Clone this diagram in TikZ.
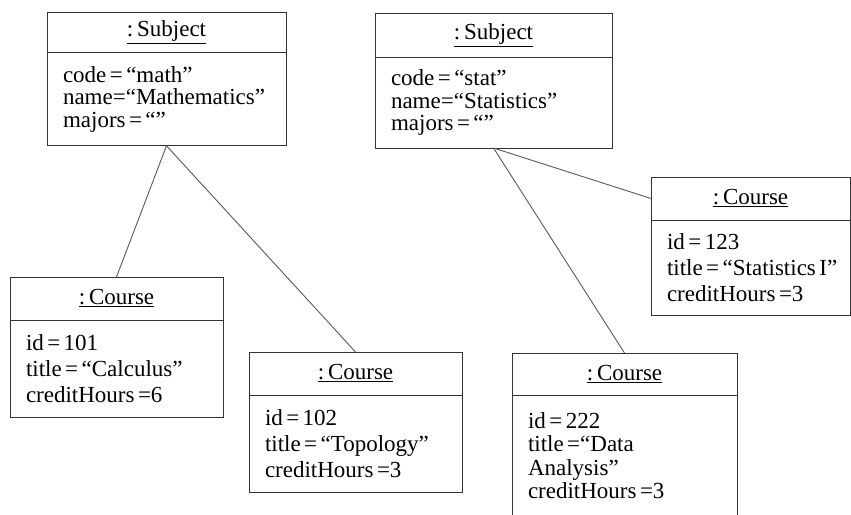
\documentclass[tikz,border=0pt]{standalone}
\usepackage{fontspec}
\setmainfont{Liberation Serif}
\newcommand{\objfont}[1]{\fontsize{23}{#1}\selectfont\hyphenpenalty=10000\relax}
\begin{document}
\begin{tikzpicture}[x=1pt, y=-1pt,
    every node/.style={inner sep=0pt, outer sep=0pt, font=\objfont{25}},
    objhead/.style={draw=black!80, line width=0.9pt},
    objbody/.style={draw=black!80, line width=0.9pt, align=left, inner xsep=16pt,
        execute at begin node={\spaceskip=0.15em plus 0.05em\relax}},
    subjtext/.style={font=\objfont{22.5}},
    crstext/.style={font=\objfont{26}},
    link/.style={draw=black!65, line width=0.9pt}]
    \useasboundingbox (0,0) rectangle (851,514);
    % Subject math
    \node[objhead, minimum width=239pt, minimum height=40pt] (subjA) at (166.5,32) {\underline{:\,Subject}};
    \node[objbody, subjtext, text width=207pt, minimum height=93.5pt] (subjAbody) at (166.5,99)
        {code = “math”\\ name=“Mathematics”\\ majors = “”};
    % Subject stat
    \node[objhead, minimum width=237pt, minimum height=44pt] (subjB) at (493.5,35) {\underline{:\,Subject}};
    \node[objbody, subjtext, text width=205pt, minimum height=91pt] (subjBbody) at (493.5,102.5)
        {code = “stat”\\ name=“Statistics”\\ majors = “”};
    % Course 101
    \node[objhead, minimum width=213pt, minimum height=43pt] (crsA) at (116.5,298.5) {\underline{:\,Course}};
    \node[objbody, crstext, text width=181pt, minimum height=97pt] (crsAbody) at (116.5,368.5)
        {id = 101\\ title = “Calculus”\\ creditHours =6};
    % Course 102
    \node[objhead, minimum width=213pt, minimum height=43pt] (crsB) at (355.5,373.5) {\underline{:\,Course}};
    \node[objbody, crstext, text width=181pt, minimum height=97pt] (crsBbody) at (355.5,443.5)
        {id = 102\\ title = “Topology”\\ creditHours =3};
    % Course 123
    \node[objhead, minimum width=199pt, minimum height=43pt] (crsC) at (750.5,198.5) {\underline{:\,Course}};
    \node[objbody, crstext, text width=167pt, minimum height=95pt] (crsCbody) at (750.5,267.5)
        {id = 123\\ \mbox{title = “Statistics I”}\\ creditHours =3};
    % Course 222
    \node[objhead, minimum width=225pt, minimum height=42pt] (crsD) at (624.5,374) {\underline{:\,Course}};
    \node[objbody, text width=193pt, minimum height=121pt, font=\objfont{23.5}] (crsDbody) at (624.5,455.5)
        {id = 222\\ title =“Data\\ Analysis”\\ creditHours =3};
    % links
    \draw[link] (subjAbody.south) -- (crsA.north);
    \draw[link] (subjAbody.south) -- (crsB.north);
    \draw[link] (subjBbody.south) -- (crsC.west);
    \draw[link] (subjBbody.south) -- (crsD.north);
\end{tikzpicture}
\end{document}
